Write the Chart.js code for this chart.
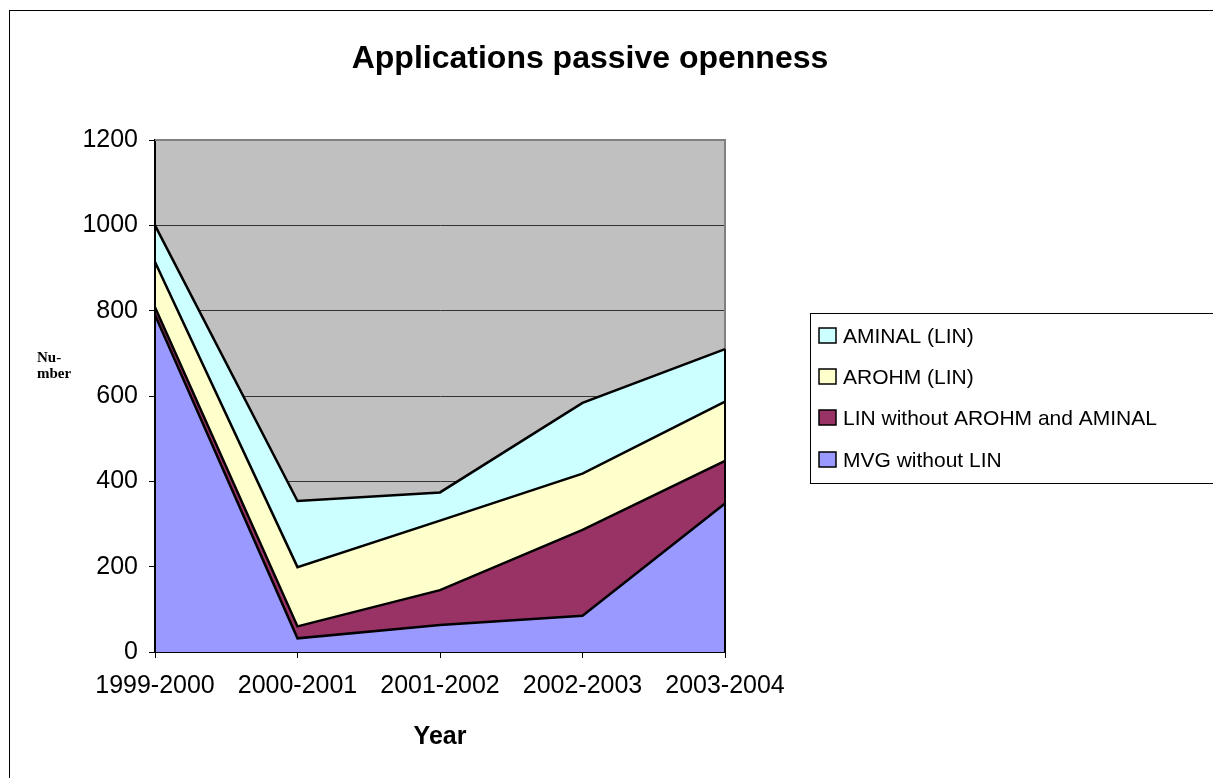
<!DOCTYPE html>
<html lang="en">
<head>
<meta charset="UTF-8">
<script src="https://cdn.jsdelivr.net/npm/chart.js"></script>
<style>
  html, body { margin: 0; padding: 0; background: #fff; overflow: hidden; }
  #wrap { width: 1213px; height: 778px; }
</style>
</head>
<body>
<div id="wrap"><canvas id="grafico"></canvas></div>
<script>
  // data (values per series, stacked)
  const anos = ['1999-2000', '2000-2001', '2001-2002', '2002-2003', '2003-2004'];
  const mvgSemLin = [790, 32, 63, 85, 348];
  const linSemArohmAminal = [18, 28, 82, 201, 100];
  const arohmLin = [106, 139, 163, 132, 139];
  const aminalLin = [86, 155, 66, 166, 123];
  const yTicks = [0, 200, 400, 600, 800, 1000, 1200];

  const nomes = ['MVG without LIN', 'LIN without AROHM and AMINAL', 'AROHM (LIN)', 'AMINAL (LIN)'];
  const cores = ['#9999ff', '#993366', '#ffffcc', '#ccffff'];
  const series = [mvgSemLin, linSemArohmAminal, arohmLin, aminalLin];

  const fonte = 'Arial, "Liberation Sans", sans-serif';

  const desenhoExtra = {
    id: 'desenhoExtra',
    beforeDraw(chart) {
      const { ctx, chartArea: a } = chart;
      ctx.save();
      ctx.fillStyle = '#fff';
      ctx.fillRect(0, 0, chart.width, chart.height);
      // moldura externa
      ctx.strokeStyle = '#000';
      ctx.lineWidth = 1;
      ctx.strokeRect(9.5, 10.5, chart.width + 50, chart.height + 50);
      // fundo cinza da area do grafico
      ctx.fillStyle = '#c0c0c0';
      ctx.fillRect(a.left, a.top, a.right - a.left, a.bottom - a.top);
      ctx.restore();
    },
    beforeDatasetsDraw(chart) {
      const { ctx, chartArea: a } = chart;
      ctx.save();
      ctx.strokeStyle = '#808080';
      ctx.lineWidth = 2;
      ctx.beginPath();
      ctx.moveTo(a.left, a.top);
      ctx.lineTo(a.right, a.top);
      ctx.lineTo(a.right, a.bottom);
      ctx.stroke();
      ctx.restore();
    },
    afterDatasetsDraw(chart) {
      // borda preta nas laterais das areas
      const { ctx, chartArea: a, scales } = chart;
      const ult = anos.length - 1;
      const topoFim = series.reduce((s, d) => s + d[ult], 0);
      const topoIni = series.reduce((s, d) => s + d[0], 0);
      ctx.save();
      ctx.strokeStyle = '#000';
      ctx.lineWidth = 2;
      ctx.beginPath();
      ctx.moveTo(a.right, scales.y.getPixelForValue(topoFim));
      ctx.lineTo(a.right, a.bottom);
      ctx.moveTo(a.left, scales.y.getPixelForValue(topoIni));
      ctx.lineTo(a.left, a.bottom);
      ctx.stroke();
      ctx.restore();
    },
    afterDraw(chart) {
      const { ctx } = chart;
      ctx.save();
      // titulo
      ctx.fillStyle = '#000';
      ctx.font = 'bold 32px ' + fonte;
      ctx.textAlign = 'center';
      ctx.textBaseline = 'alphabetic';
      ctx.fillText('Applications passive openness', 590, 68);
      // titulo do eixo y
      ctx.font = 'bold 15px "Liberation Serif", "Times New Roman", serif';
      ctx.textAlign = 'left';
      ctx.fillText('Nu-', 37, 362);
      ctx.fillText('mber', 37, 378);
      // legenda
      ctx.strokeStyle = '#000';
      ctx.lineWidth = 1;
      ctx.strokeRect(810.5, 313.5, 450, 170);
      ctx.font = '21px ' + fonte;
      const base = [343, 384, 425, 467];
      for (let i = 0; i < 4; i++) {
        const k = 3 - i;
        ctx.fillStyle = cores[k];
        ctx.fillRect(819, base[i] - 15, 17, 15);
        ctx.lineWidth = 1.5;
        ctx.strokeRect(819, base[i] - 15, 17, 15);
        ctx.fillStyle = '#000';
        ctx.fillText(nomes[k], 843, base[i]);
      }
      ctx.restore();
    }
  };

  const chart = new Chart(document.getElementById('grafico'), {
    type: 'line',
    data: {
      labels: anos,
      datasets: series.map((d, i) => ({
        label: nomes[i],
        data: d,
        backgroundColor: cores[i],
        borderColor: '#000',
        borderWidth: 2.5,
        pointRadius: 0,
        tension: 0,
        fill: i === 0 ? 'origin' : '-1'
      }))
    },
    options: {
      responsive: true,
      maintainAspectRatio: false,
      animation: false,
      devicePixelRatio: 1,
      layout: { padding: { top: 140, right: 488, bottom: 0, left: 0 } },
      plugins: {
        legend: { display: false },
        title: { display: false },
        tooltip: { enabled: false }
      },
      scales: {
        x: {
          offset: false,
          afterFit: s => { s.height = 126; },
          grid: { drawOnChartArea: false, drawTicks: true, tickLength: 6, tickColor: '#000', lineWidth: 1 },
          border: { color: '#000', width: 2 },
          ticks: { color: '#000', font: { family: fonte, size: 25 }, padding: 13, maxRotation: 0 },
          title: {
            display: true,
            text: 'Year',
            color: '#000',
            font: { family: fonte, size: 25, weight: 'bold' },
            padding: { top: 0, bottom: 26 }
          }
        },
        y: {
          stacked: true,
          min: 0,
          max: 1200,
          afterFit: s => { s.width = 155; },
          afterBuildTicks: s => { s.ticks = yTicks.map(v => ({ value: v })); },
          grid: { color: '#333', lineWidth: 1, tickLength: 6, tickColor: '#000' },
          border: { color: '#000', width: 2 },
          ticks: { color: '#000', font: { family: fonte, size: 25 }, padding: 11, callback: v => String(v) }
        }
      }
    },
    plugins: [desenhoExtra]
  });
</script>
</body>
</html>
